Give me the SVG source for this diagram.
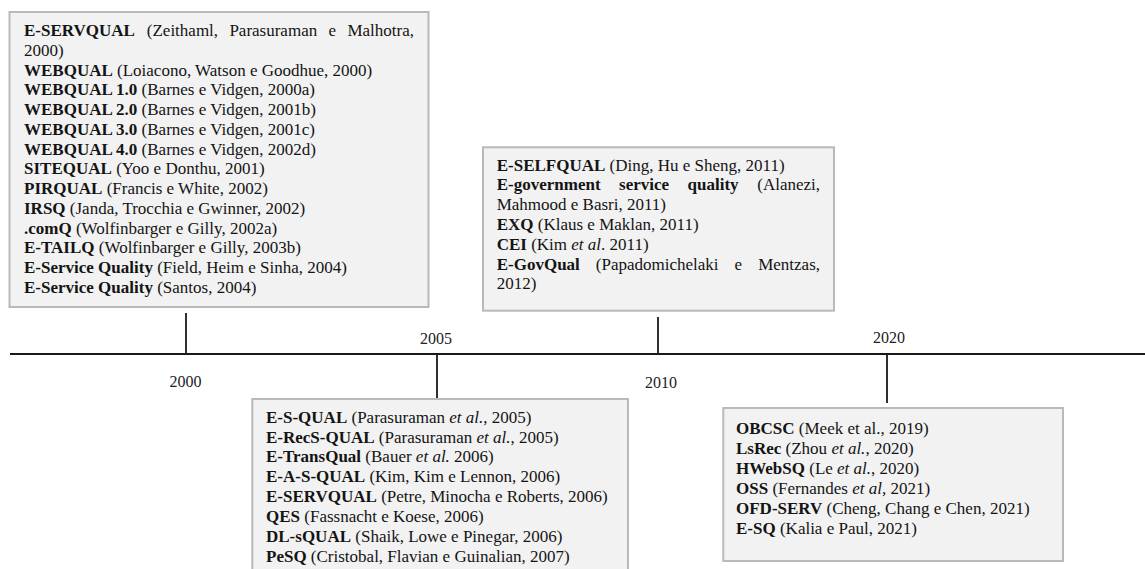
<svg xmlns="http://www.w3.org/2000/svg" width="1145" height="569" viewBox="0 0 1145 569">
<style>
.bg{fill:#ffffff}
.box{fill:#f2f2f2;stroke:#b9b9b9;stroke-width:2}
.t{font-family:"Liberation Serif","Times New Roman",serif;font-size:17px;fill:#141414}
.b{font-weight:bold}
.i{font-style:italic}
.yr{font-family:"Liberation Serif","Times New Roman",serif;font-size:16px;fill:#222;text-anchor:middle}
.axis{stroke:#1a1a1a;stroke-width:2.2;fill:none}
.tick{stroke:#1a1a1a;stroke-width:1.8;fill:none}
</style>
<rect class="bg" x="0" y="0" width="1145" height="569"/>

<g id="connectors">
  <line class="axis" x1="10" y1="354" x2="1145" y2="354"/>
  <line class="tick" x1="186" y1="313" x2="186" y2="354"/>
  <line class="tick" x1="437" y1="354" x2="437" y2="398"/>
  <line class="tick" x1="658" y1="317" x2="658" y2="354"/>
  <line class="tick" x1="887" y1="354" x2="887" y2="403"/>
</g>

<g id="years">
  <text class="yr" x="185.5" y="387">2000</text>
  <text class="yr" x="436" y="344">2005</text>
  <text class="yr" x="661" y="388">2010</text>
  <text class="yr" x="889" y="343">2020</text>
</g>

<g id="node-2000">
  <rect class="box" x="9.5" y="12" width="419" height="295"/>
  <text class="t" y="36"><tspan class="b" x="24">E-SERVQUAL</tspan><tspan x="146.8">(Zeithaml,</tspan><tspan x="229.4">Parasuraman</tspan><tspan x="328.5">e</tspan><tspan x="414" text-anchor="end">Malhotra,</tspan></text>
  <text class="t" x="24" y="55.75">2000)</text>
  <text class="t" x="24" y="75.5"><tspan class="b">WEBQUAL</tspan> (Loiacono, Watson e Goodhue, 2000)</text>
  <text class="t" x="24" y="95.25"><tspan class="b">WEBQUAL 1.0</tspan> (Barnes e Vidgen, 2000a)</text>
  <text class="t" x="24" y="115"><tspan class="b">WEBQUAL 2.0</tspan> (Barnes e Vidgen, 2001b)</text>
  <text class="t" x="24" y="134.75"><tspan class="b">WEBQUAL 3.0</tspan> (Barnes e Vidgen, 2001c)</text>
  <text class="t" x="24" y="154.5"><tspan class="b">WEBQUAL 4.0</tspan> (Barnes e Vidgen, 2002d)</text>
  <text class="t" x="24" y="174.25"><tspan class="b">SITEQUAL</tspan> (Yoo e Donthu, 2001)</text>
  <text class="t" x="24" y="194"><tspan class="b">PIRQUAL</tspan> (Francis e White, 2002)</text>
  <text class="t" x="24" y="213.75"><tspan class="b">IRSQ</tspan> (Janda, Trocchia e Gwinner, 2002)</text>
  <text class="t" x="24" y="233.5"><tspan class="b">.comQ</tspan> (Wolfinbarger e Gilly, 2002a)</text>
  <text class="t" x="24" y="253.25"><tspan class="b">E-TAILQ</tspan> (Wolfinbarger e Gilly, 2003b)</text>
  <text class="t" x="24" y="273"><tspan class="b">E-Service Quality</tspan> (Field, Heim e Sinha, 2004)</text>
  <text class="t" x="24" y="292.75"><tspan class="b">E-Service Quality</tspan> (Santos, 2004)</text>
</g>

<g id="node-2010">
  <rect class="box" x="483" y="147.3" width="351" height="163.4"/>
  <text class="t" x="496.7" y="170.5"><tspan class="b">E-SELFQUAL</tspan> (Ding, Hu e Sheng, 2011)</text>
  <text class="t" y="190.3"><tspan class="b" x="496.7">E-government</tspan><tspan class="b" x="619.1">service</tspan><tspan class="b" x="687.6">quality</tspan><tspan x="820" text-anchor="end">(Alanezi,</tspan></text>
  <text class="t" x="496.7" y="210.1">Mahmood e Basri, 2011)</text>
  <text class="t" x="496.7" y="229.9"><tspan class="b">EXQ</tspan> (Klaus e Maklan, 2011)</text>
  <text class="t" x="496.7" y="249.7"><tspan class="b">CEI</tspan> (Kim <tspan class="i">et al</tspan>. 2011)</text>
  <text class="t" y="269.5"><tspan class="b" x="496.7">E-GovQual</tspan><tspan x="595.8">(Papadomichelaki</tspan><tspan x="734.6">e</tspan><tspan x="820" text-anchor="end">Mentzas,</tspan></text>
  <text class="t" x="496.7" y="289.3">2012)</text>
</g>

<g id="node-2005">
  <rect class="box" x="252.3" y="399" width="375.7" height="180"/>
  <text class="t" x="266" y="422.5"><tspan class="b">E-S-QUAL</tspan> (Parasuraman <tspan class="i">et al.</tspan>, 2005)</text>
  <text class="t" x="266" y="442.5"><tspan class="b">E-RecS-QUAL</tspan> (Parasuraman <tspan class="i">et al.</tspan>, 2005)</text>
  <text class="t" x="266" y="462.4"><tspan class="b">E-TransQual</tspan> (Bauer <tspan class="i">et al.</tspan> 2006)</text>
  <text class="t" x="266" y="482.4"><tspan class="b">E-A-S-QUAL</tspan> (Kim, Kim e Lennon, 2006)</text>
  <text class="t" x="266" y="502.3"><tspan class="b">E-SERVQUAL</tspan> (Petre, Minocha e Roberts, 2006)</text>
  <text class="t" x="266" y="522.3"><tspan class="b">QES</tspan> (Fassnacht e Koese, 2006)</text>
  <text class="t" x="266" y="542.2"><tspan class="b">DL-sQUAL</tspan> (Shaik, Lowe e Pinegar, 2006)</text>
  <text class="t" x="266" y="562.2"><tspan class="b">PeSQ</tspan> (Cristobal, Flavian e Guinalian, 2007)</text>
</g>

<g id="node-2020">
  <rect class="box" x="723.3" y="408" width="339.7" height="153"/>
  <text class="t" x="736" y="434"><tspan class="b">OBCSC</tspan> (Meek et al., 2019)</text>
  <text class="t" x="736" y="454"><tspan class="b">LsRec</tspan> (Zhou <tspan class="i">et al.</tspan>, 2020)</text>
  <text class="t" x="736" y="474"><tspan class="b">HWebSQ</tspan> (Le <tspan class="i">et al.</tspan>, 2020)</text>
  <text class="t" x="736" y="494"><tspan class="b">OSS</tspan> (Fernandes <tspan class="i">et al,</tspan> 2021)</text>
  <text class="t" x="736" y="514"><tspan class="b">OFD-SERV</tspan> (Cheng, Chang e Chen, 2021)</text>
  <text class="t" x="736" y="534"><tspan class="b">E-SQ</tspan> (Kalia e Paul, 2021)</text>
</g>
</svg>
